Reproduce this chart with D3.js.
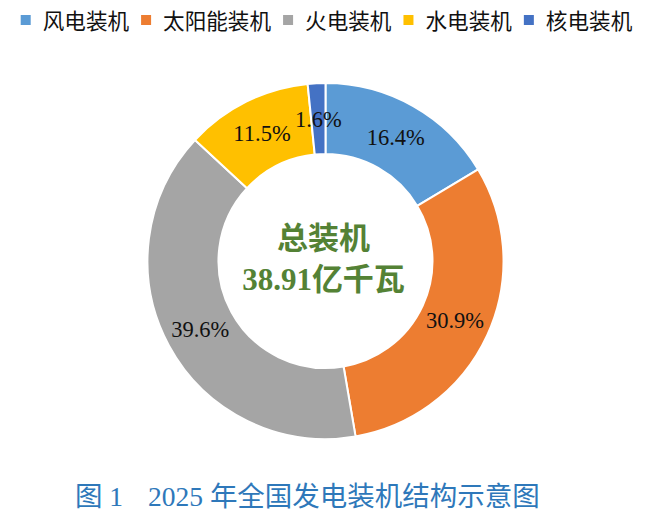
<!DOCTYPE html>
<html>
<head>
<meta charset="utf-8">
<script src="https://cdn.jsdelivr.net/npm/d3@7"></script>
<style>
  html, body { margin: 0; padding: 0; background: #fff; }
  svg { display: block; }
</style>
</head>
<body>
<svg id="chart"></svg>
<script>
// data
const categories = ['风电装机', '太阳能装机', '火电装机', '水电装机', '核电装机'];
const shares = [16.4, 30.9, 39.6, 11.5, 1.6];
const colors = ['#5b9bd5', '#ed7d31', '#a5a5a5', '#ffc000', '#4472c4'];
const centerLines = ['总装机', '38.91亿千瓦'];
const caption = ['图 1', '2025 年全国发电装机结构示意图'];

const w = 650;
const h = 524;
const cx = 325.5, cy = 261;
const outerR = 178, innerR = 107;

const svg = d3.select('#chart').attr('width', w).attr('height', h);

const pie = d3.pie().sort(null).value((d) => d);
const arcs = pie(shares);
const arc = d3.arc().innerRadius(innerR).outerRadius(outerR);

const g = svg.append('g').attr('transform', `translate(${cx},${cy})`);

g.selectAll('path')
  .data(arcs)
  .enter()
  .append('path')
  .attr('d', arc)
  .attr('fill', (d, i) => colors[i])
  .attr('stroke', '#fff')
  .attr('stroke-width', 2);

// percent labels
g.selectAll('text.pct')
  .data(arcs)
  .enter()
  .append('text')
  .attr('class', 'pct')
  .attr('x', (d) => arc.centroid(d)[0])
  .attr('y', (d) => arc.centroid(d)[1] + 8)
  .attr('text-anchor', 'middle')
  .style('font-family', '"Liberation Serif", "Times New Roman", serif')
  .style('font-size', '22.5px')
  .style('fill', '#111')
  .text((d) => d.data.toFixed(1) + '%');

// centre text
g.selectAll('text.center')
  .data(centerLines)
  .enter()
  .append('text')
  .attr('class', 'center')
  .attr('x', -2)
  .attr('y', (d, i) => (i === 0 ? -12 : 29))
  .attr('text-anchor', 'middle')
  .style('font-family', '"Liberation Serif", "Noto Sans CJK SC", serif')
  .style('font-weight', 'bold')
  .style('font-size', '31px')
  .style('fill', '#548235')
  .text((d) => d);

// legend
const legend = svg.append('g');
let lx = 20.7;
categories.forEach((c, i) => {
  const item = legend.append('g');
  item.append('rect')
    .attr('x', lx).attr('y', 15)
    .attr('width', 10).attr('height', 10)
    .attr('fill', colors[i]);
  const t = item.append('text')
    .attr('x', lx + 22).attr('y', 28.5)
    .style('font-family', '"Noto Sans CJK SC", sans-serif')
    .style('font-size', '21.6px')
    .style('fill', '#111')
    .text(c);
  lx += 22 + t.node().getComputedTextLength() + 12;
});

// caption
const cap = svg.append('text')
  .attr('y', 506)
  .style('font-family', '"Liberation Serif", "Noto Sans CJK SC", serif')
  .style('font-size', '27.5px')
  .style('fill', '#2e78ba');
cap.append('tspan').attr('x', 75).text(caption[0]);
cap.append('tspan').attr('x', 148).text(caption[1]);
</script>
</body>
</html>
